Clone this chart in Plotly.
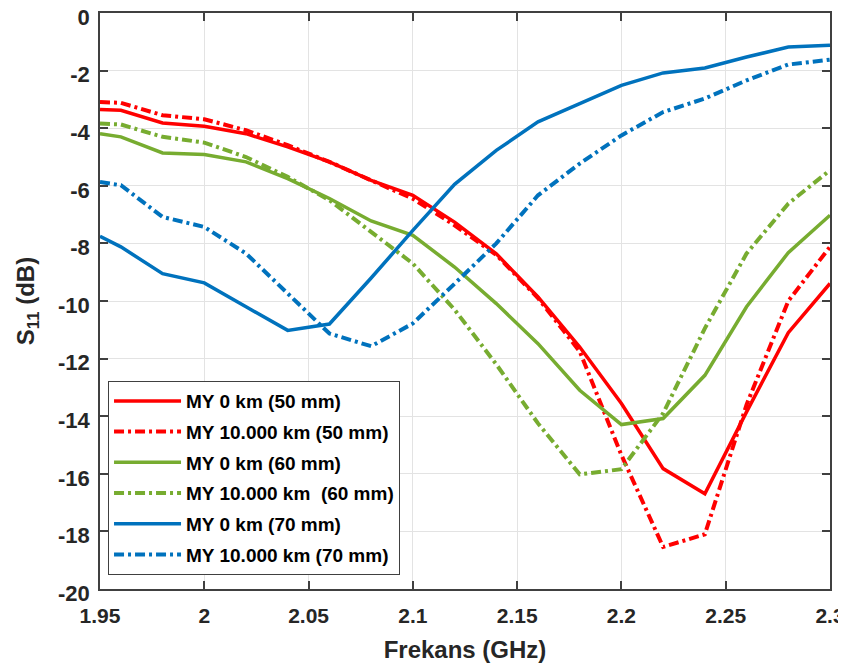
import plotly.graph_objects as go

freq = [1.95, 1.96, 1.98, 2.00, 2.02, 2.04, 2.06, 2.08, 2.10, 2.12, 2.14, 2.16,
        2.18, 2.20, 2.22, 2.24, 2.26, 2.28, 2.30]

red_0km = [-3.35, -3.38, -3.82, -3.93, -4.19, -4.65, -5.17, -5.81, -6.33, -7.26, -8.36, -9.86,
           -11.6, -13.56, -15.82, -16.69, -13.85, -11.1, -9.39]
red_10k = [-3.09, -3.12, -3.55, -3.69, -4.07, -4.59, -5.17, -5.82, -6.45, -7.37, -8.4, -9.9,
           -11.75, -15.35, -18.54, -18.1, -13.6, -10.0, -8.12]
green_0km = [-4.19, -4.3, -4.86, -4.91, -5.17, -5.75, -6.44, -7.22, -7.72, -8.82, -10.09, -11.48,
             -13.1, -14.29, -14.08, -12.58, -10.2, -8.32, -7.02]
green_10k = [-3.84, -3.87, -4.3, -4.5, -5.0, -5.69, -6.5, -7.6, -8.7, -10.3, -12.2, -14.25,
             -16.02, -15.84, -13.9, -10.95, -8.35, -6.62, -5.46]
blue_0km = [-7.75, -8.12, -9.05, -9.37, -10.2, -11.02, -10.8, -9.2, -7.55, -5.95, -4.77, -3.78,
            -3.15, -2.51, -2.08, -1.91, -1.53, -1.18, -1.12]
blue_10k = [-5.87, -5.98, -7.08, -7.43, -8.35, -9.74, -11.13, -11.57, -10.78, -9.4, -8.0, -6.33,
            -5.23, -4.25, -3.44, -2.97, -2.34, -1.79, -1.62]

series = [
    ("MY 0 km (50 mm)", red_0km, "#FF0000", "solid"),
    ("MY 10.000 km (50 mm)", red_10k, "#FF0000", "10px,4px,3px,4px"),
    ("MY 0 km (60 mm)", green_0km, "#77AC30", "solid"),
    ("MY 10.000 km  (60 mm)", green_10k, "#77AC30", "10px,4px,3px,4px"),
    ("MY 0 km (70 mm)", blue_0km, "#0072BD", "solid"),
    ("MY 10.000 km (70 mm)", blue_10k, "#0072BD", "10px,4px,3px,4px"),
]

x_ticks = [1.95, 2.0, 2.05, 2.1, 2.15, 2.2, 2.25, 2.3]
x_tick_labels = ["1.95", "2", "2.05", "2.1", "2.15", "2.2", "2.25", "2.3"]
y_ticks = [0, -2, -4, -6, -8, -10, -12, -14, -16, -18, -20]
y_tick_labels = ["0", "-2", "-4", "-6", "-8", "-10", "-12", "-14", "-16", "-18", "-20"]

fig = go.Figure()
for i, (name, vals, color, dash) in enumerate(series):
    fig.add_trace(go.Scatter(
        x=freq, y=vals, mode="lines", name=name, legendgroup=f"g{i}",
        line=dict(color=color, width=3.5 if dash == "solid" else 4, dash=dash),
    ))

axis_color = "#404040"
font_fam = "Liberation Sans, Arial, sans-serif"

fig.update_layout(
    width=846, height=670,
    margin=dict(l=92, r=24, t=5, b=89),
    paper_bgcolor="white", plot_bgcolor="white",
    font=dict(family=font_fam, size=20, color="#262626", weight="bold"),
    showlegend=True,
    legend=dict(
        x=0.011, y=0.361, xanchor="left", yanchor="top",
        bgcolor="white", bordercolor=axis_color, borderwidth=1,
        font=dict(size=19, family=font_fam, color="#000000", weight="bold"),
        itemwidth=67, tracegroupgap=3,
    ),
)
fig.update_xaxes(
    range=[1.95, 2.3], tickvals=x_ticks, ticktext=x_tick_labels,
    showgrid=True, gridcolor="#e3e3e3", gridwidth=1,
    showline=True, linecolor=axis_color, linewidth=1.5, mirror="ticks",
    ticks="inside", ticklen=8, tickcolor=axis_color, tickwidth=1.5,
    tickfont=dict(size=21), zeroline=False, automargin=False,
    ticklabelstandoff=7, ticklabeloverflow="allow",
    title=dict(text="Frekans (GHz)", font=dict(size=24), standoff=15),
)
fig.update_yaxes(
    range=[-20, 0], tickvals=y_ticks, ticktext=y_tick_labels,
    showgrid=True, gridcolor="#e3e3e3", gridwidth=1,
    showline=True, linecolor=axis_color, linewidth=1.5, mirror="ticks",
    ticks="inside", ticklen=8, tickcolor=axis_color, tickwidth=1.5,
    tickfont=dict(size=22), zeroline=False, automargin=False,
    ticklabelstandoff=4, ticklabeloverflow="allow", ticklabelshift=4,
    title=dict(text="S<sub>11</sub> (dB)", font=dict(size=24), standoff=17),
)

fig.write_html("out.html")
